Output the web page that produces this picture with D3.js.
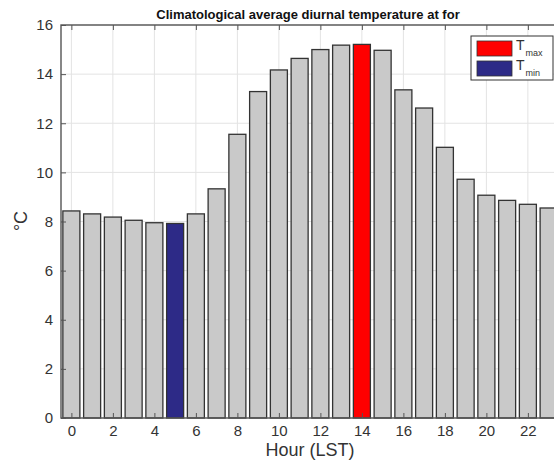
<!DOCTYPE html>
<html>
<head>
<meta charset="utf-8">
<script src="https://cdn.jsdelivr.net/npm/d3@7"></script>
<style>
  html, body { margin: 0; padding: 0; background: #fff; }
  svg { display: block; font-family: "Liberation Sans", Arial, Helvetica, sans-serif; }
</style>
</head>
<body>
<div id="chart"></div>
<script>
// Climatological average diurnal temperature, one bar per hour (LST)
var hours = [0, 1, 2, 3, 4, 5, 6, 7, 8, 9, 10, 11, 12, 13, 14, 15, 16, 17, 18, 19, 20, 21, 22, 23];
var temps = [8.43, 8.31, 8.18, 8.05, 7.95, 7.92, 8.31, 9.33, 11.55, 13.29, 14.17, 14.64,
             15.0, 15.18, 15.21, 14.97, 13.36, 12.62, 11.02, 9.72, 9.07, 8.86, 8.7, 8.55];
var xTicks = [0, 2, 4, 6, 8, 10, 12, 14, 16, 18, 20, 22];
var yTicks = [0, 2, 4, 6, 8, 10, 12, 14, 16];
var tmaxHour = 14, tminHour = 5;
var legendItems = [{ key: "max", color: "#ff0000" }, { key: "min", color: "#2d2a87" }];

var COL = { bar: "#c9c9c9", edge: "#333333", grid: "#e3e3e3", axis: "#555555", text: "#333333" };
var W = 554, H = 460;
var M = { l: 61, r: 559, t: 25, b: 418 };

var svg = d3.select("#chart").append("svg").attr("width", W).attr("height", H);

var x = d3.scaleLinear().domain([-0.5, 23.5]).range([M.l, M.r]);
var y = d3.scaleLinear().domain([0, 16]).range([M.b, M.t]);
var bw = (x(1) - x(0)) * 0.82;

// grid
var grid = svg.append("g");
grid.selectAll("line.gx").data(xTicks).enter().append("line")
  .attr("x1", function (d) { return x(d); }).attr("x2", function (d) { return x(d); })
  .attr("y1", M.t).attr("y2", M.b)
  .attr("stroke", COL.grid).attr("stroke-width", 1);
grid.selectAll("line.gy").data(yTicks).enter().append("line")
  .attr("x1", M.l).attr("x2", M.r)
  .attr("y1", function (d) { return y(d); }).attr("y2", function (d) { return y(d); })
  .attr("stroke", COL.grid).attr("stroke-width", 1);

// bars
svg.append("g").selectAll("rect").data(hours).enter().append("rect")
  .attr("x", function (d) { return x(d) - bw / 2; })
  .attr("width", bw)
  .attr("y", function (d, i) { return y(temps[i]); })
  .attr("height", function (d, i) { return y(0) - y(temps[i]); })
  .attr("fill", function (d) {
    return d === tmaxHour ? legendItems[0].color : d === tminHour ? legendItems[1].color : COL.bar;
  })
  .attr("stroke", COL.edge).attr("stroke-width", 1.3);

// axes (MATLAB style: ticks point inward, box on)
function styleAxis(a) {
  a.select(".domain").remove();
  a.selectAll("line").attr("stroke", COL.axis).attr("stroke-width", 1);
  a.selectAll("text").attr("fill", COL.text).style("font-size", "15px");
}
var ax = svg.append("g").attr("transform", "translate(0," + M.b + ")")
  .call(d3.axisBottom(x).tickValues(xTicks).tickSize(-5).tickPadding(7).tickFormat(d3.format("d")));
styleAxis(ax);
var axT = svg.append("g").attr("transform", "translate(0," + M.t + ")")
  .call(d3.axisTop(x).tickValues(xTicks).tickSize(-5).tickFormat(""));
styleAxis(axT);
var ay = svg.append("g").attr("transform", "translate(" + M.l + ",0)")
  .call(d3.axisLeft(y).tickValues(yTicks).tickSize(-5).tickPadding(8).tickFormat(d3.format("d")));
styleAxis(ay);
var ayR = svg.append("g").attr("transform", "translate(" + M.r + ",0)")
  .call(d3.axisRight(y).tickValues(yTicks).tickSize(-5).tickFormat(""));
styleAxis(ayR);

svg.append("rect").attr("x", M.l).attr("y", M.t)
  .attr("width", M.r - M.l).attr("height", M.b - M.t)
  .attr("fill", "none").attr("stroke", COL.axis).attr("stroke-width", 1.4);

// labels
svg.append("text").attr("x", (M.l + M.r) / 2 - 2).attr("y", 19)
  .attr("text-anchor", "middle").attr("fill", "#111")
  .style("font-size", "13px").style("font-weight", "bold")
  .text("Climatological average diurnal temperature at for");
svg.append("text").attr("x", 310).attr("y", 456)
  .attr("text-anchor", "middle").attr("fill", COL.text)
  .style("font-size", "18px").text("Hour (LST)");
svg.append("text").attr("transform", "rotate(-90)")
  .attr("x", -221).attr("y", 27).attr("text-anchor", "middle")
  .attr("fill", COL.text).style("font-size", "18px").text("°C");

// legend
var lg = svg.append("g");
lg.append("rect").attr("x", 471).attr("y", 36).attr("width", 82).attr("height", 44)
  .attr("fill", "#fff").attr("stroke", COL.edge).attr("stroke-width", 1);
legendItems.forEach(function (d, i) {
  var yy = 41 + i * 20;
  lg.append("rect").attr("x", 477).attr("y", yy).attr("width", 35).attr("height", 15)
    .attr("fill", d.color).attr("stroke", COL.edge).attr("stroke-width", 0.8);
  var t = lg.append("text").attr("x", 516).attr("y", yy + 9).attr("fill", COL.text)
    .style("font-size", "14px");
  t.append("tspan").text("T");
  t.append("tspan").attr("dy", 6).attr("dx", 1).style("font-size", "9px").text(d.key);
});
</script>
</body>
</html>
